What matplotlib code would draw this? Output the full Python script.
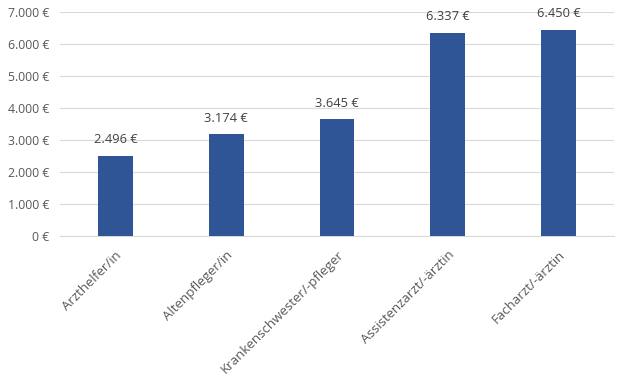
import matplotlib
matplotlib.use('Agg')
import matplotlib.pyplot as plt
from matplotlib.ticker import FuncFormatter

categories = ['Arzthelfer/in', 'Altenpfleger/in', 'Krankenschwester/-pfleger',
              'Assistenzarzt/-ärztin', 'Facharzt/-ärztin']
values = [2496, 3174, 3645, 6337, 6450]

TEXT = '#595959'
plt.rcParams['font.family'] = ['Open Sans', 'DejaVu Sans']


def euro(v, pos=None):
    return '{:,.0f} €'.format(v).replace(',', '.')


fig = plt.figure(figsize=(6.17, 3.78), dpi=100)
ax = fig.add_axes([60 / 617, 1 - 236 / 378, 554 / 617, 224 / 378])

x = range(len(categories))
bars = ax.bar(x, values, width=0.315, color='#2F5597', zorder=3)
for b, v in zip(bars, values):
    ax.annotate(euro(v), (b.get_x() + b.get_width() / 2, v), xytext=(0, 7),
                textcoords='offset points', ha='center', va='bottom',
                fontsize=9.3, color='#404040')

ax.set_xlim(-0.5, len(categories) - 0.5)
ax.set_ylim(0, 7000)
ax.set_yticks(range(0, 7001, 1000))
ax.yaxis.set_major_formatter(FuncFormatter(euro))
ax.grid(axis='y', color='#D9D9D9', linewidth=0.8, zorder=0)

for s in ['top', 'right', 'left']:
    ax.spines[s].set_visible(False)
ax.spines['bottom'].set_color('#D9D9D9')
ax.tick_params(axis='both', length=0, colors=TEXT, labelsize=8.8)
ax.tick_params(axis='y', pad=8)
ax.tick_params(axis='x', pad=9, labelsize=9.5)
ax.set_xticks(list(x))
ax.set_xticklabels(categories, rotation=45, ha='right', rotation_mode='anchor')

fig.savefig('out.png', dpi=100)
